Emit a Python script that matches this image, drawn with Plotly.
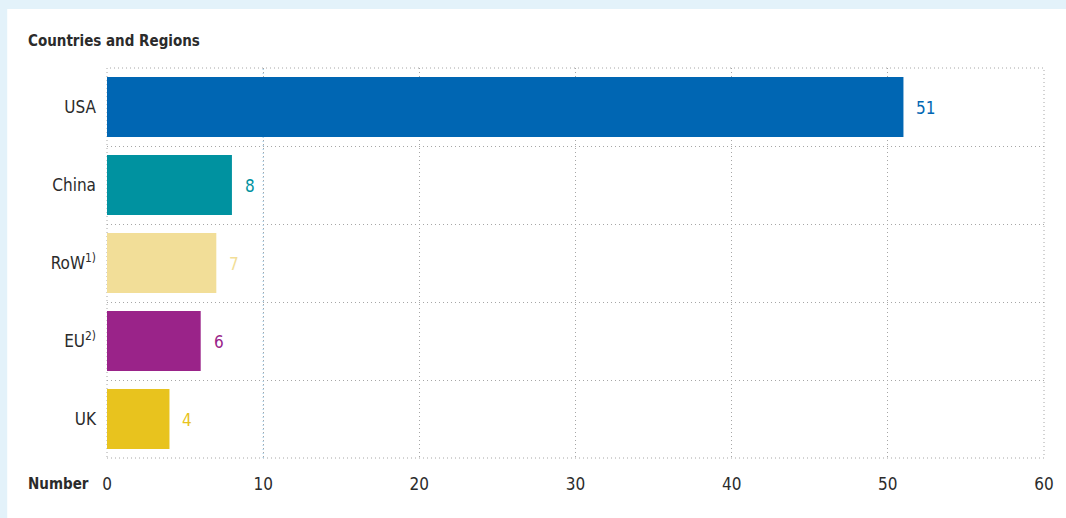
import plotly.graph_objects as go

# data
regions = ['USA', 'China', 'RoW<sup>1)</sup>', 'EU<sup>2)</sup>', 'UK']
counts = [51, 8, 7, 6, 4]
colors = ['#0066b3', '#0092a0', '#f2de98', '#9a2389', '#e8c31e']

FONT = 'DejaVu Sans Condensed'
TEXT = '#2b2b2b'
GRID = '#a6a6a6'
DOTS = '1px,3px'

fig = go.Figure()
fig.add_trace(go.Bar(
    x=counts, y=regions, orientation='h',
    marker=dict(color=colors, line=dict(width=0)),
    hoverinfo='x+y', showlegend=False,
))

# value labels next to bars, coloured like the bar
for reg, val, col in zip(regions, counts, colors):
    fig.add_annotation(x=val, y=reg, text=str(val), showarrow=False,
                       xanchor='left', xshift=11, yshift=-1,
                       font=dict(family=FONT, size=17, color=col))

fig.add_annotation(x=-0.0862, y=1.069, xref='paper', yref='paper', yanchor='middle',
                   xanchor='left', text='<b>Countries and Regions</b>',
                   showarrow=False, font=dict(family=FONT, size=15, color=TEXT))
fig.add_annotation(x=-0.0175, y=-0.0667, xref='paper', yref='paper', yanchor='middle',
                   xanchor='right', text='<b>Number</b>',
                   showarrow=False, font=dict(family=FONT, size=15, color=TEXT))

# white card on light blue page
fig.add_shape(type='rect', xref='paper', yref='paper', layer='below',
              x0=-0.1065, x1=1.1, y0=-0.2, y1=1.1513,
              fillcolor='white', line=dict(width=0))
# dotted frame round the plot area
fig.add_shape(type='rect', xref='paper', yref='paper', layer='below',
              x0=0, x1=1, y0=0, y1=1,
              line=dict(color=GRID, width=1, dash=DOTS))
# bluish grid line at 10
fig.add_shape(type='line', xref='x', yref='paper', x0=10, x1=10, y0=0, y1=1,
              layer='below', line=dict(color='#8cc3e6', width=1, dash=DOTS))

fig.update_layout(
    width=1066, height=518,
    margin=dict(l=107, r=20, t=68, b=60),
    paper_bgcolor='#e3f2fa', plot_bgcolor='rgba(0,0,0,0)',
    bargap=0.23,
    font=dict(family=FONT, size=17, color=TEXT),
    xaxis=dict(range=[0, 60], dtick=10, showgrid=True, gridcolor=GRID,
               griddash=DOTS, gridwidth=1, zeroline=False, showline=False,
               ticks='', ticklabelstandoff=14, tickfont=dict(size=17)),
    yaxis=dict(autorange='reversed', tickson='boundaries', showgrid=True,
               gridcolor=GRID, griddash=DOTS, gridwidth=1, ticks='',
               ticklabelstandoff=10, zeroline=False, showline=False,
               tickfont=dict(size=17)),
)

fig.write_html('out.html', config={'displayModeBar': False},
               post_script="document.body.style.margin='0';"
                           "document.body.style.background='#e3f2fa';")
